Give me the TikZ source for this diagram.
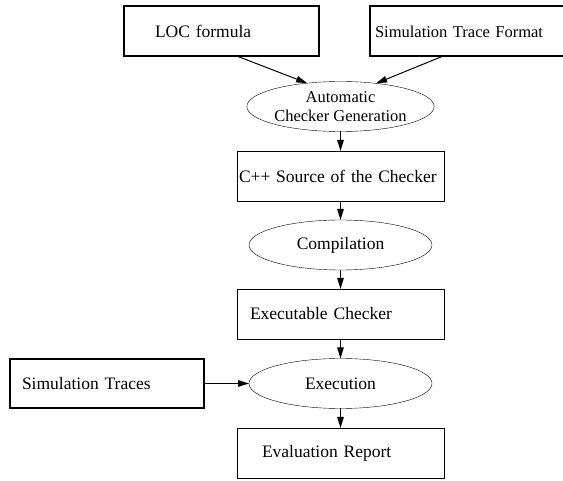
\documentclass[tikz,border=0pt]{standalone}
\usepackage{fontspec}
\setmainfont{Liberation Serif}
\usetikzlibrary{positioning,arrows.meta,shapes.geometric}

\begin{document}
\begin{tikzpicture}[x=1pt, y=-1pt, >={Triangle[length=11pt,width=6.5pt]}]
% Definition of blocks:
\tikzset{%
  block/.style    = {draw, rectangle, outer sep=0pt, minimum height=50pt, align=left,
                     inner xsep=#1, text width=207pt-2*#1, font=\fontsize{17.5}{21}\selectfont},
  source/.style   = {block=#1, line width=2pt, text width=195pt-2*#1},
  proc/.style     = {draw, ellipse, outer sep=0pt, inner sep=0pt, minimum width=183pt,
                     minimum height=50pt, align=center, font=\fontsize{17.5}{21}\selectfont},
  flow/.style     = {->, line width=1pt}
}
\useasboundingbox (0,0) rectangle (563,481);

\draw
	node [source=31.5pt] at (221,31.5) (Formula) {LOC formula}
	node [source=5.5pt, right = 51pt of Formula, font=\fontsize{16.5}{19.5}\selectfont] (Format) {Simulation Trace Format}
	node [proc, font=\fontsize{16.5}{19.5}\selectfont] at (340.5,106.5) (Generation) {Automatic\\Checker Generation}
	node [block=2pt, below = 19.5pt of Generation] (Source) {C++ Source of the Checker}
	node [proc, below = 19pt of Source] (Compile) {Compilation}
	node [block=13pt, below = 19pt of Compile] (Executable) {Executable Checker}
	node [proc, below = 19.5pt of Executable] (Execute) {Execution}
	node [block=25pt, below = 19.5pt of Execute] (Report) {Evaluation Report}
	node [source=12pt, left = 45pt of Execute, text width=194pt-24pt, minimum height=49pt] (Traces) {Simulation Traces};

\draw[flow]([xshift=17pt]Formula.south) -- (Generation.145);
\draw[flow]([xshift=-25pt]Format.south) -- (Generation.33);
\draw[flow](Generation) -- (Source);
\draw[flow](Source) -- (Compile);
\draw[flow](Compile) -- (Executable);
\draw[flow](Executable) -- (Execute);
\draw[flow](Traces) -- (Execute);
\draw[flow](Execute) -- (Report);

\end{tikzpicture}
\end{document}
